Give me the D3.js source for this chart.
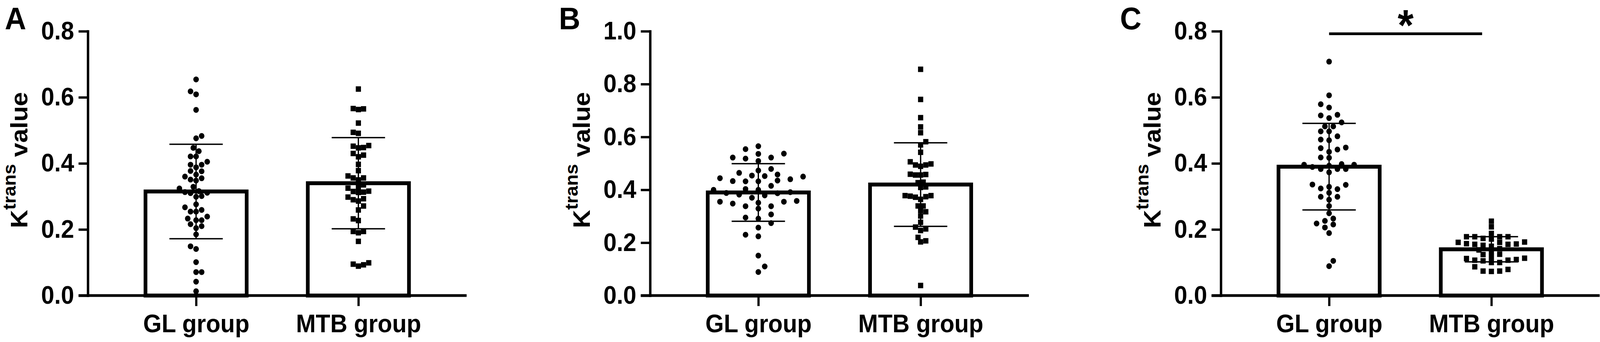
<!DOCTYPE html>
<html>
<head>
<meta charset="utf-8">
<script src="https://cdnjs.cloudflare.com/ajax/libs/d3/7.8.5/d3.min.js"></script>
<style>
html, body { margin: 0; padding: 0; overflow: hidden; background: #fff; }
svg { display: block; width: 100vw; height: 100vh; }
text { font-family: "Liberation Sans", Arial, sans-serif; font-weight: bold; fill: #000; }
</style>
</head>
<body>
<svg id="chart" viewBox="0 0 4317 876" preserveAspectRatio="none"></svg>
<script>
// groups and panels
const groups = ["GL group", "MTB group"];
const panelLabels = ["A", "B", "C"];
const yMax = [0.8, 1.0, 0.8];
const yTicks = [
    [0, 0.2, 0.4, 0.6, 0.8],
    [0, 0.2, 0.4, 0.6, 0.8, 1.0],
    [0, 0.2, 0.4, 0.6, 0.8]
];

// individual Ktrans values
const glA = [0.654, 0.618, 0.609, 0.562, 0.483, 0.476, 0.447, 0.437, 0.421, 0.421, 0.405, 0.396, 0.396, 0.388, 0.376, 0.377, 0.366, 0.360, 0.351, 0.348, 0.355, 0.329, 0.324, 0.316, 0.311, 0.313, 0.310, 0.299, 0.301, 0.276, 0.267, 0.254, 0.259, 0.254, 0.239, 0.233, 0.228, 0.228, 0.216, 0.210, 0.204, 0.185, 0.149, 0.141, 0.101, 0.071, 0.071, 0.042, 0.013];
const mtbA = [0.625, 0.566, 0.565, 0.563, 0.522, 0.494, 0.491, 0.448, 0.452, 0.447, 0.454, 0.425, 0.430, 0.420, 0.397, 0.378, 0.356, 0.356, 0.362, 0.350, 0.335, 0.325, 0.328, 0.312, 0.313, 0.316, 0.315, 0.298, 0.290, 0.293, 0.286, 0.271, 0.259, 0.232, 0.227, 0.190, 0.194, 0.194, 0.164, 0.099, 0.095, 0.093, 0.089];
const glB = [0.565, 0.554, 0.537, 0.536, 0.518, 0.522, 0.522, 0.509, 0.479, 0.473, 0.464, 0.458, 0.454, 0.450, 0.452, 0.440, 0.444, 0.432, 0.435, 0.432, 0.433, 0.415, 0.400, 0.403, 0.400, 0.391, 0.388, 0.387, 0.379, 0.382, 0.370, 0.355, 0.358, 0.355, 0.348, 0.351, 0.338, 0.338, 0.329, 0.307, 0.295, 0.291, 0.274, 0.257, 0.230, 0.224, 0.151, 0.110, 0.089];
const mtbB = [0.856, 0.742, 0.673, 0.638, 0.616, 0.582, 0.570, 0.542, 0.506, 0.494, 0.498, 0.489, 0.494, 0.456, 0.458, 0.456, 0.459, 0.429, 0.427, 0.409, 0.411, 0.376, 0.374, 0.372, 0.378, 0.378, 0.364, 0.339, 0.339, 0.322, 0.317, 0.301, 0.277, 0.259, 0.252, 0.246, 0.220, 0.207, 0.203, 0.038];
const glC = [0.708, 0.606, 0.579, 0.569, 0.547, 0.545, 0.537, 0.524, 0.512, 0.512, 0.497, 0.497, 0.482, 0.470, 0.472, 0.446, 0.448, 0.442, 0.435, 0.418, 0.417, 0.393, 0.396, 0.389, 0.398, 0.396, 0.383, 0.383, 0.383, 0.373, 0.335, 0.329, 0.324, 0.322, 0.336, 0.311, 0.299, 0.290, 0.299, 0.271, 0.249, 0.233, 0.226, 0.215, 0.218, 0.206, 0.189, 0.105, 0.089];
const mtbC = [0.225, 0.208, 0.188, 0.178, 0.178, 0.178, 0.178, 0.171, 0.173, 0.157, 0.161, 0.161, 0.162, 0.156, 0.155, 0.155, 0.152, 0.149, 0.138, 0.142, 0.124, 0.132, 0.125, 0.116, 0.112, 0.107, 0.107, 0.109, 0.105, 0.113, 0.100, 0.100, 0.087, 0.079, 0.074, 0.074, 0.073];

// bar heights (mean) and error bars (SD)
const means = [[0.315, 0.340], [0.390, 0.420], [0.390, 0.140]];
const sds = [[0.143, 0.138], [0.109, 0.158], [0.131, 0.038]];
const sigMarks = ["", "", "*"];

const points = [[glA, mtbA], [glB, mtbB], [glC, mtbC]];

// layout
const axisX = [237, 1754, 3294];
const labelX = [13, 1508, 3022];
const plotW = 1022, plotTop = 80, plotBottom = 757;
const spread = [[1.0, 1.0], [2.3, 1.0], [1.5, 1.6]];
const dotD = 15, sqD = 14;

const svg = d3.select("#chart");

// simple beeswarm: put each point at the free slot nearest the centre
function swarm(vals, y, d, sx) {
    const step = d * sx / 2;
    const order = d3.range(vals.length).sort((a, b) => vals[a] - vals[b]);
    const placed = [];
    const xs = new Array(vals.length);
    let flip = 1;
    order.forEach(i => {
        const py = y(vals[i]);
        for (let k = 0; k < 400; k++) {
            const off = (k % 2 ? flip : -flip) * Math.ceil(k / 2) * step;
            const ok = placed.every(p => ((off - p.x) / sx) ** 2 + (py - p.y) ** 2 >= d * d * 0.92);
            if (ok) {
                xs[i] = off;
                placed.push({x: off, y: py});
                if (k > 0) flip = -flip;
                break;
            }
        }
    });
    return xs;
}

// ink box of a glyph, used to size the asterisk
function inkBox(str, size) {
    const ctx = document.createElement("canvas").getContext("2d");
    ctx.font = "bold " + size + "px 'Liberation Sans', Arial, sans-serif";
    const m = ctx.measureText(str);
    return {
        left: m.actualBoundingBoxLeft, right: m.actualBoundingBoxRight,
        ascent: m.actualBoundingBoxAscent, descent: m.actualBoundingBoxDescent,
        fontAscent: m.fontBoundingBoxAscent || size * 0.905
    };
}

panelLabels.forEach((lab, pi) => {
    const g = svg.append("g").attr("transform", "translate(" + axisX[pi] + ",0)");

    const y = d3.scaleLinear().domain([0, yMax[pi]]).range([plotBottom, plotTop]);
    const x = d3.scalePoint().domain(groups).range([0, plotW]).padding(0.667);
    const barW = 273;

    // bars
    g.selectAll(".bar")
        .data(groups)
        .enter()
        .append("rect")
        .attr("x", d => x(d) - barW / 2)
        .attr("y", (d, i) => y(means[pi][i]))
        .attr("width", barW)
        .attr("height", (d, i) => y(0) - y(means[pi][i]))
        .attr("fill", "#fff")
        .attr("stroke", "#000")
        .attr("stroke-width", 10);

    // error bars
    groups.forEach((grp, gi) => {
        const cx = x(grp);
        const hi = y(means[pi][gi] + sds[pi][gi]);
        const lo = y(means[pi][gi] - sds[pi][gi]);
        g.append("line").attr("x1", cx).attr("x2", cx).attr("y1", hi).attr("y2", lo)
            .attr("stroke", "#000").attr("stroke-width", 3.5);
        [hi, lo].forEach(v => {
            g.append("line").attr("x1", cx - 72).attr("x2", cx + 72).attr("y1", v).attr("y2", v)
                .attr("stroke", "#000").attr("stroke-width", 3.5);
        });
    });

    // axes
    const yAxis = d3.axisLeft(y)
        .tickValues(yTicks[pi])
        .tickFormat(d3.format(".1f"))
        .tickSize(25)
        .tickSizeOuter(0)
        .tickPadding(12);
    const ya = g.append("g").call(yAxis);
    ya.select(".domain").attr("stroke-width", 6.5).attr("stroke-linecap", "square");
    ya.selectAll(".tick line").attr("stroke-width", 6);
    ya.selectAll(".tick text")
        .attr("font-size", 64)
        .attr("font-family", "'Liberation Sans', Arial, sans-serif")
        .attr("font-weight", "bold")
        .attr("fill", "#000");

    g.append("line").attr("x1", -25).attr("x2", plotW).attr("y1", plotBottom).attr("y2", plotBottom)
        .attr("stroke", "#000").attr("stroke-width", 7);

    const xAxis = d3.axisBottom(x).tickSize(27).tickSizeOuter(0).tickPadding(22);
    const xa = g.append("g").attr("transform", "translate(0," + plotBottom + ")").call(xAxis);
    xa.select(".domain").remove();
    xa.selectAll(".tick line").attr("stroke-width", 6);
    xa.selectAll(".tick text")
        .attr("font-size", 64)
        .attr("font-family", "'Liberation Sans', Arial, sans-serif")
        .attr("font-weight", "bold")
        .attr("fill", "#000");

    // individual points
    groups.forEach((grp, gi) => {
        const vals = points[pi][gi];
        const d = gi === 0 ? dotD : sqD;
        const offs = swarm(vals, y, d, spread[pi][gi]);
        const sym = gi === 0
            ? d3.symbol().type(d3.symbolCircle).size(Math.PI * (dotD / 2) ** 2)
            : d3.symbol().type(d3.symbolSquare).size(sqD * sqD);
        g.selectAll(".pt" + gi)
            .data(vals)
            .enter()
            .append("path")
            .attr("d", sym)
            .attr("transform", (v, i) => "translate(" + (x(grp) + offs[i]) + "," + y(v) + ")")
            .attr("fill", "#000");
    });

    // y title with superscript
    const title = g.append("text")
        .attr("transform", "translate(-163,410) rotate(-90)")
        .attr("text-anchor", "middle");
    title.append("tspan").attr("font-size", 65).text("K");
    title.append("tspan").attr("font-size", 48).attr("dy", -32).text("trans");
    title.append("tspan").attr("font-size", 65).attr("dy", 32).text(" value");

    // panel letter
    svg.append("text")
        .attr("x", labelX[pi])
        .attr("y", 75)
        .attr("font-size", 80)
        .text(lab);

    // significance bar
    if (sigMarks[pi]) {
        const x1 = x(groups[0]), x2 = x(groups[1]) - 25;
        g.append("line").attr("x1", x1).attr("x2", x2).attr("y1", plotTop + 6.5).attr("y2", plotTop + 6.5)
            .attr("stroke", "#000").attr("stroke-width", 7);
        // star ink about 42 px tall, centred over the line, kept inside the top edge
        const ref = inkBox(sigMarks[pi], 100);
        const inkH = (ref.ascent + ref.descent) || 30;
        const fs = 100 * 42 / inkH;
        const k = fs / 100;
        const cx = (x1 + x2) / 2;
        const base = Math.max(12 + k * (ref.ascent || 72), k * ref.fontAscent + 2);
        g.append("text")
            .attr("x", cx - k * (ref.right - ref.left) / 2)
            .attr("y", base)
            .attr("font-size", fs)
            .text(sigMarks[pi]);
    }
});
</script>
</body>
</html>
